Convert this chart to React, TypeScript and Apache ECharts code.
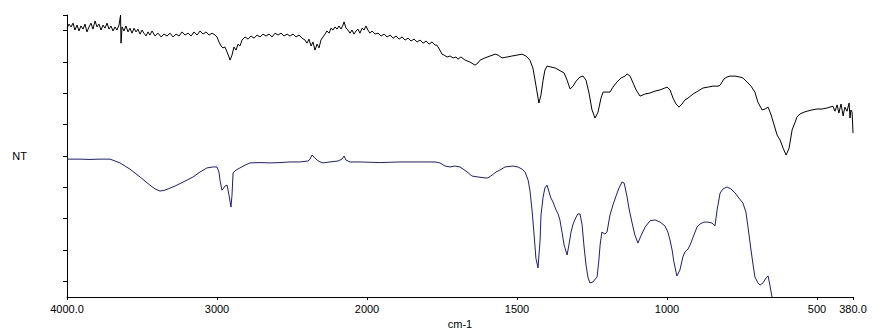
import React, { useEffect, useRef } from "react";
import * as echarts from "echarts";

// Wavenumber ticks (cm-1) and their labels
const xTickWavenumbers = [4000, 3000, 2000, 1500, 1000, 500, 380];
const xTickLabels = ["4000.0", "3000", "2000", "1500", "1000", "500", "380.0"];
const yTickValues = [0, 10, 20, 30, 40, 50, 60, 70, 80, 85];

// Upper (black) spectrum
const blackWn = [
  4000, 3987, 3973, 3960, 3947, 3933, 3920, 3907, 3893, 3880,
  3867, 3853, 3840, 3827, 3813, 3800, 3787, 3773, 3760, 3747,
  3733, 3720, 3707, 3693, 3680, 3667, 3653, 3643, 3640, 3633,
  3620, 3607, 3593, 3580, 3567, 3553, 3540, 3527, 3513, 3500,
  3487, 3473, 3460, 3447, 3433, 3413, 3393, 3373, 3353, 3333,
  3313, 3293, 3273, 3253, 3233, 3213, 3193, 3173, 3153, 3133,
  3113, 3093, 3073, 3053, 3033, 3013, 3000, 2987, 2973, 2960,
  2947, 2933, 2920, 2913, 2900, 2887, 2873, 2860, 2847, 2833,
  2813, 2793, 2773, 2753, 2733, 2713, 2693, 2673, 2653, 2633,
  2613, 2593, 2573, 2553, 2533, 2513, 2493, 2473, 2453, 2433,
  2413, 2400, 2387, 2373, 2360, 2347, 2333, 2320, 2307, 2293,
  2280, 2267, 2253, 2240, 2227, 2213, 2200, 2187, 2173, 2160,
  2153, 2140, 2127, 2113, 2100, 2087, 2073, 2060, 2047, 2033,
  2020, 2007, 1997, 1990, 1983, 1973, 1963, 1953, 1943, 1933,
  1923, 1913, 1903, 1893, 1883, 1873, 1863, 1853, 1843, 1833,
  1823, 1813, 1803, 1793, 1783, 1773, 1767, 1757, 1750, 1743,
  1733, 1723, 1713, 1703, 1697, 1687, 1673, 1657, 1640, 1630,
  1623, 1607, 1590, 1573, 1563, 1550, 1533, 1517, 1500, 1483,
  1470, 1457, 1447, 1437, 1427, 1420, 1413, 1407, 1400, 1387,
  1373, 1360, 1343, 1333, 1323, 1313, 1303, 1290, 1280, 1270,
  1260, 1250, 1240, 1230, 1220, 1213, 1200, 1190, 1180, 1167,
  1153, 1140, 1133, 1123, 1113, 1103, 1090, 1073, 1057, 1040,
  1023, 1007, 1000, 990, 980, 970, 960, 950, 940, 930,
  913, 897, 880, 863, 847, 830, 823, 810, 800, 790,
  773, 757, 747, 733, 720, 707, 697, 683, 673, 663,
  653, 643, 633, 623, 613, 603, 593, 583, 573, 567,
  557, 543, 533, 517, 500, 483, 467, 457, 447, 440,
  433, 427, 420, 413, 407, 400, 393, 390, 387, 383,
  380,
];
const blackT = [
  80.8, 82.1, 81.2, 82.4, 80.2, 81.8, 79.9, 81.5, 80.5, 82.1,
  79.6, 81.2, 82.4, 80.5, 83.1, 81.2, 82.1, 80.2, 81.8, 80.8,
  82.4, 80.5, 81.5, 79.9, 81.2, 80.2, 81.8, 85.0, 76.0, 81.2,
  79.9, 81.5, 79.6, 80.8, 79.2, 80.8, 79.6, 80.5, 78.9, 80.2,
  79.2, 78.3, 79.6, 78.6, 79.9, 78.3, 79.2, 78.0, 78.9, 78.3,
  79.2, 78.0, 78.9, 78.3, 79.6, 78.6, 79.2, 78.3, 79.6, 78.6,
  79.9, 78.9, 79.6, 78.6, 79.2, 78.6, 78.0, 76.4, 75.1, 74.5,
  74.8, 73.2, 71.6, 70.6, 72.2, 74.8, 73.8, 75.7, 75.1, 77.0,
  78.0, 77.3, 78.3, 77.6, 78.6, 78.0, 78.9, 78.3, 78.9, 78.0,
  79.2, 78.6, 79.2, 78.3, 78.9, 78.3, 78.9, 78.0, 78.6, 77.6,
  77.0, 76.0, 77.3, 75.1, 76.4, 73.8, 75.7, 74.5, 77.0, 78.0,
  78.9, 79.9, 79.2, 80.8, 80.2, 81.2, 80.5, 81.5, 80.5, 81.8,
  82.8, 80.8, 80.2, 79.2, 80.2, 78.9, 79.9, 80.5, 79.2, 80.8,
  80.2, 81.5, 80.2, 79.2, 79.9, 78.9, 79.2, 78.3, 78.9, 78.0,
  78.6, 77.6, 78.3, 77.3, 78.0, 77.0, 77.6, 76.7, 77.3, 76.4,
  77.0, 76.0, 76.7, 75.7, 76.4, 75.4, 75.4, 73.8, 72.5, 72.2,
  71.6, 71.9, 71.3, 71.6, 70.9, 71.6, 70.6, 70.0, 69.0, 69.7,
  70.6, 71.3, 71.9, 72.5, 72.2, 71.3, 71.6, 71.9, 72.2, 72.5,
  71.9, 70.6, 68.1, 62.6, 56.9, 59.5, 64.2, 67.4, 68.7, 68.4,
  68.1, 67.4, 66.5, 64.2, 61.4, 62.3, 63.9, 65.2, 65.5, 64.2,
  60.1, 54.7, 52.1, 54.0, 58.5, 60.4, 60.4, 60.4, 62.0, 63.6,
  64.9, 65.5, 66.2, 65.5, 63.3, 61.1, 59.1, 59.8, 60.1, 60.7,
  61.1, 61.7, 62.0, 61.1, 58.5, 56.6, 55.6, 56.6, 57.9, 58.5,
  59.8, 60.7, 61.7, 62.0, 62.3, 62.3, 62.6, 64.6, 65.2, 65.5,
  65.5, 65.2, 64.9, 63.6, 62.3, 60.4, 57.2, 54.7, 55.0, 55.6,
  53.1, 49.9, 46.7, 45.1, 42.5, 40.3, 42.5, 48.3, 50.8, 52.4,
  53.4, 54.0, 54.3, 54.7, 55.0, 55.0, 55.3, 55.6, 55.9, 54.3,
  56.3, 53.7, 56.6, 52.8, 55.6, 54.3, 56.9, 52.1, 54.7, 54.0,
  47.3,
];

// Lower (blue) spectrum
const blueWn = [
  4000, 3913, 3847, 3780, 3713, 3680, 3647, 3580, 3513, 3447,
  3413, 3380, 3347, 3280, 3213, 3160, 3113, 3067, 3027, 3000,
  2987, 2980, 2967, 2960, 2947, 2933, 2920, 2907, 2900, 2893,
  2873, 2847, 2813, 2780, 2713, 2647, 2580, 2513, 2447, 2393,
  2380, 2367, 2353, 2333, 2313, 2293, 2247, 2193, 2167, 2153,
  2140, 2113, 2047, 1957, 1890, 1823, 1773, 1757, 1740, 1723,
  1707, 1690, 1670, 1650, 1630, 1607, 1597, 1583, 1570, 1557,
  1540, 1513, 1497, 1483, 1473, 1463, 1457, 1450, 1443, 1437,
  1430, 1423, 1420, 1413, 1407, 1400, 1393, 1387, 1380, 1370,
  1363, 1357, 1350, 1343, 1333, 1327, 1320, 1313, 1303, 1297,
  1290, 1283, 1277, 1270, 1263, 1257, 1247, 1233, 1227, 1223,
  1217, 1207, 1200, 1190, 1180, 1170, 1160, 1150, 1143, 1140,
  1133, 1127, 1117, 1107, 1097, 1087, 1073, 1057, 1040, 1023,
  1007, 997, 990, 983, 977, 967, 957, 947, 940, 930,
  923, 913, 900, 890, 877, 863, 850, 840, 833, 823,
  813, 800, 787, 773, 763, 747, 737, 730, 720, 713,
  707, 697, 690, 680, 670, 663, 657, 650,
];
const blueT = [
  39.0, 39.0, 38.9, 39.0, 39.0, 38.4, 37.8, 35.8, 33.3, 30.7,
  29.5, 28.8, 29.1, 30.4, 32.0, 33.3, 34.9, 36.2, 36.5, 36.5,
  34.9, 32.3, 29.1, 29.5, 30.4, 30.7, 27.5, 23.7, 27.5, 34.6,
  35.5, 36.2, 37.1, 37.8, 37.9, 37.8, 37.9, 38.1, 38.1, 38.4,
  39.0, 40.3, 39.7, 38.7, 38.1, 37.8, 38.1, 38.4, 39.0, 40.0,
  38.7, 38.1, 38.1, 37.9, 38.1, 38.1, 38.1, 37.8, 36.8, 36.5,
  36.8, 36.5, 35.2, 33.6, 33.3, 33.0, 33.0, 33.9, 34.9, 35.5,
  36.5, 36.8, 36.5, 35.8, 34.9, 32.3, 29.1, 22.8, 14.8, 7.4,
  4.3, 13.2, 21.2, 26.9, 29.8, 30.7, 28.5, 26.6, 25.3, 22.8,
  21.5, 19.6, 15.7, 11.6, 8.4, 11.6, 15.7, 18.3, 20.5, 21.5,
  21.5, 18.0, 11.6, 5.2, 1.1, -0.5, -0.2, 1.4, 6.8, 11.6,
  15.7, 15.1, 15.7, 21.2, 24.4, 27.2, 29.8, 31.7, 31.4, 30.1,
  26.9, 23.4, 18.9, 14.8, 12.2, 14.5, 17.3, 19.3, 19.6, 18.9,
  17.7, 15.7, 13.2, 10.0, 6.2, 1.7, 3.6, 7.8, 9.4, 10.3,
  11.6, 14.1, 17.3, 18.3, 18.9, 18.9, 18.6, 17.7, 22.8, 28.2,
  29.5, 30.1, 29.5, 28.2, 26.9, 25.0, 22.1, 17.3, 10.0, 5.2,
  1.4, -0.5, -1.2, -0.5, 1.1, 1.7, -1.2, -5.0,
];

// Instrument scale change at 2000 cm-1: below 2000 the scale is doubled.
const toU = (wn: number) => (wn >= 2000 ? (4000 - wn) / 2 : 1000 + (2000 - wn));
const xTickU = xTickWavenumbers.map(toU);

const FONT = "'Liberation Sans', Arial, sans-serif";

export default function App() {
  const ref = useRef<HTMLDivElement>(null);
  useEffect(() => {
    if (!ref.current) return;
    const chart = echarts.init(ref.current, null, { renderer: "svg" });
    const blackData = blackWn.map((w, i) => [toU(w), blackT[i]]);
    const blueData = blueWn.map((w, i) => [toU(w), blueT[i]]);
    chart.setOption({
      animation: false,
      backgroundColor: "#ffffff",
      grid: { left: 67, right: 28, top: 15, bottom: 38, containLabel: false, outerBoundsMode: "none" },
      xAxis: {
        type: "value",
        min: 0,
        max: toU(380),
        name: "cm-1",
        nameLocation: "middle",
        nameGap: 19,
        nameTextStyle: { color: "#000", fontSize: 11, fontFamily: FONT },
        axisLine: { show: true, onZero: false, lineStyle: { color: "#000", width: 1 } },
        axisTick: { show: true, customValues: xTickU, length: 3, lineStyle: { color: "#000" } },
        axisLabel: {
          customValues: xTickU,
          color: "#000",
          fontSize: 11,
          fontFamily: FONT,
          margin: 6,
          formatter: (v: number) => {
            const i = xTickU.findIndex((u) => Math.abs(u - v) < 0.5);
            return i >= 0 ? xTickLabels[i] : "";
          },
        },
        splitLine: { show: false },
      },
      yAxis: {
        type: "value",
        min: -5,
        max: 85,
        name: "NT",
        nameLocation: "middle",
        nameRotate: 0,
        nameGap: 40,
        nameTextStyle: { color: "#000", fontSize: 11, fontFamily: FONT },
        axisLine: { show: true, onZero: false, lineStyle: { color: "#000", width: 1 } },
        axisTick: { show: true, customValues: yTickValues, length: 4, lineStyle: { color: "#000" } },
        axisLabel: { show: false },
        splitLine: { show: false },
      },
      series: [
        {
          type: "line",
          data: blackData,
          showSymbol: false,
          symbol: "none",
          lineStyle: { color: "#000000", width: 1 },
          clip: true,
        },
        {
          type: "line",
          data: blueData,
          showSymbol: false,
          symbol: "none",
          lineStyle: { color: "#1c1c80", width: 1 },
          clip: true,
        },
      ],
    });
    return () => chart.dispose();
  }, []);
  return (
    <div
      ref={ref}
      style={{ position: "absolute", left: 0, top: 0, width: 881, height: 335, background: "#fff" }}
    />
  );
}
